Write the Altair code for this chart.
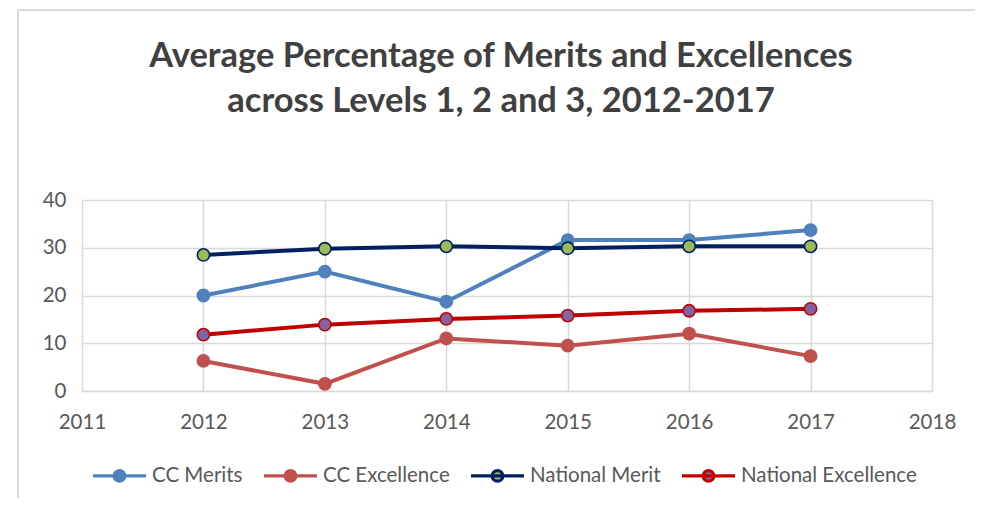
import altair as alt
import pandas as pd

years = [2012, 2013, 2014, 2015, 2016, 2017]
series_names = ["CC Merits", "CC Excellence", "National Merit", "National Excellence"]
cc_merits = [20.0, 25.0, 18.7, 31.6, 31.6, 33.7]
cc_excellence = [6.3, 1.5, 11.0, 9.5, 12.0, 7.3]
national_merit = [28.5, 29.8, 30.3, 29.9, 30.3, 30.3]
national_excellence = [11.8, 13.9, 15.1, 15.8, 16.8, 17.2]

x_ticks = [2011, 2012, 2013, 2014, 2015, 2016, 2017, 2018]
y_ticks = [0, 10, 20, 30, 40]

line_colors = ["#4F81BD", "#C0504D", "#002060", "#C00000"]
fill_colors = ["#4F81BD", "#C0504D", "#9BBB59", "#8064A2"]

rows = []
for name, vals in zip(series_names, [cc_merits, cc_excellence, national_merit, national_excellence]):
    for yr, v in zip(years, vals):
        rows.append({"Year": yr, "Value": v, "Series": name})
df = pd.DataFrame(rows)

FONT = "Lato"
TXT = "#595959"

x_enc = alt.X("Year:Q", scale=alt.Scale(domain=[2011, 2018], nice=False),
              axis=alt.Axis(values=x_ticks, format="d", title=None, grid=True,
                            ticks=False, tickSize=0, labelPadding=21, labelFontSize=20.5,
                            labelFont=FONT, labelColor=TXT, labelFlush=False,
                            domainColor="#d9d9d9", domainWidth=1.5,
                            gridColor="#d9d9d9", gridWidth=1.5))
y_enc = alt.Y("Value:Q", scale=alt.Scale(domain=[0, 40], nice=False),
              axis=alt.Axis(values=y_ticks, title=None, grid=True, ticks=False, tickSize=0,
                            labelPadding=16, labelFontSize=20.5, labelFont=FONT,
                            labelColor=TXT, domain=False, gridColor="#d9d9d9",
                            gridWidth=1.5))

legend_path = ("M -1 0 L 1 0 M 0.2 0 A 0.2 0.2 0 1 1 -0.2 0 "
               "A 0.2 0.2 0 1 1 0.2 0 Z")

stroke_scale = alt.Scale(domain=series_names, range=line_colors)
fill_scale = alt.Scale(domain=series_names, range=fill_colors)

legend = alt.Legend(title=None, orient="none", legendX=9, legendY=247,
                    direction="horizontal", symbolType=legend_path, symbolSize=2809,
                    symbolStrokeWidth=3.2, labelFontSize=20.5, labelFont=FONT,
                    labelColor=TXT, labelOffset=4, columnPadding=14, padding=0,
                    labelLimit=400)

base = alt.Chart(df)

lines = base.mark_line(strokeWidth=4).encode(
    x=x_enc, y=y_enc,
    stroke=alt.Stroke("Series:N", scale=stroke_scale, sort=series_names, legend=legend),
    order=alt.Order("Year:Q"),
    detail="Series:N",
)

points = base.mark_point(filled=True, size=150, strokeWidth=1.6, opacity=1).encode(
    x="Year:Q", y="Value:Q",
    stroke=alt.Stroke("Series:N", scale=stroke_scale, sort=series_names, legend=legend),
    fill=alt.Fill("Series:N", scale=fill_scale, sort=series_names, legend=legend),
)

frame_v = alt.Chart(df).mark_rule(color="#d9d9d9", strokeWidth=2).encode(
    x=alt.value(-64), y=alt.value(-190), y2=alt.value(400))
frame_h = alt.Chart(df).mark_rule(color="#d9d9d9", strokeWidth=2).encode(
    x=alt.value(-64), x2=alt.value(893), y=alt.value(-190))

chart = alt.layer(frame_v, frame_h, lines, points).properties(
    width=850, height=191,
    title=alt.TitleParams(
        text=["Average Percentage of Merits and Excellences", "across Levels 1, 2 and 3, 2012-2017"],
        font=FONT, fontSize=34.5, fontWeight="bold", color="#404040", anchor="middle",
        lineHeight=45, offset=-110, dx=-6),
    autosize=alt.AutoSizeParams(type="none"),
    padding={"left": 74, "top": 192, "right": 43, "bottom": 107},
).configure_view(stroke="#d9d9d9", strokeWidth=1.5).configure(background="white")

chart.save("out.html", embed_options={"renderer": "svg", "actions": False})
